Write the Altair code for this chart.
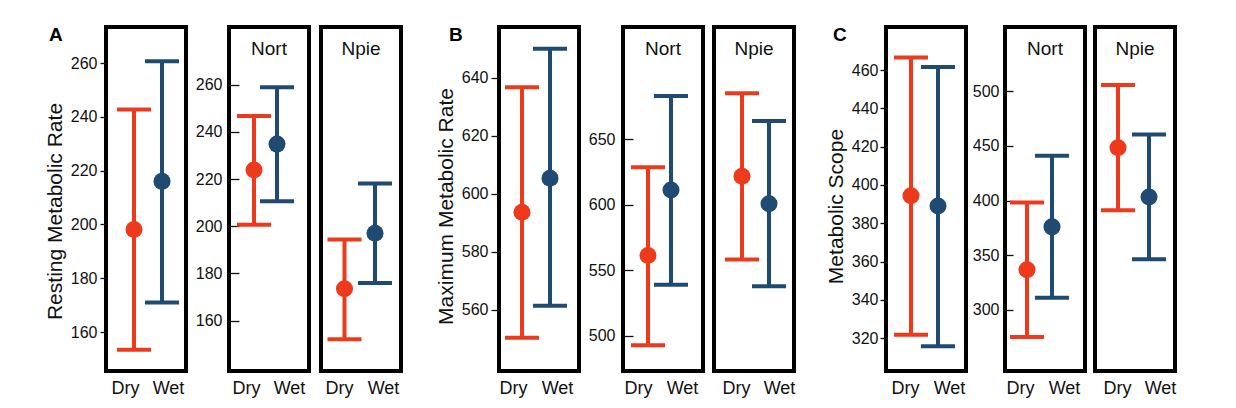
import altair as alt
import pandas as pd

conds = ["Dry", "Wet"]

# A: Resting Metabolic Rate
a_all_mean = [198.1, 216.0]
a_all_lo = [153.4, 171.0]
a_all_hi = [242.7, 260.7]
a_nort_mean = [223.8, 234.8]
a_nort_lo = [200.6, 210.6]
a_nort_hi = [246.7, 258.9]
a_npie_mean = [173.5, 197.0]
a_npie_lo = [152.1, 176.0]
a_npie_hi = [194.4, 218.1]
a_all_ticks = [160, 180, 200, 220, 240, 260]
a_pop_ticks = [160, 180, 200, 220, 240, 260]

# B: Maximum Metabolic Rate
b_all_mean = [593.6, 605.4]
b_all_lo = [550.3, 561.3]
b_all_hi = [636.8, 650.1]
b_nort_mean = [561.4, 611.4]
b_nort_lo = [492.9, 539.0]
b_nort_hi = [628.7, 683.0]
b_npie_mean = [621.9, 600.8]
b_npie_lo = [558.4, 538.0]
b_npie_hi = [685.1, 664.0]
b_all_ticks = [560, 580, 600, 620, 640]
b_pop_ticks = [500, 550, 600, 650]

# C: Metabolic Scope
c_all_mean = [394.4, 389.0]
c_all_lo = [321.7, 315.7]
c_all_hi = [466.6, 461.6]
c_nort_mean = [336.8, 376.0]
c_nort_lo = [275.3, 311.3]
c_nort_hi = [398.2, 441.1]
c_npie_mean = [448.4, 403.4]
c_npie_lo = [391.2, 346.3]
c_npie_hi = [505.8, 460.6]
c_all_ticks = [320, 340, 360, 380, 400, 420, 440, 460]
c_pop_ticks = [300, 350, 400, 450, 500]

RED = "#ee3a1c"
BLUE = "#1f4a72"
FONT = "Liberation Sans"
W = 80
H = 344


def panel(mean, lo, hi, domain, ticks, xrange, lrange, yaxis_opts=None,
          ytitle=None, title=None, letter=None, letter_dx=-57):
    df = pd.DataFrame({"cond": conds, "mean": mean, "lo": lo, "hi": hi})
    xaxis = alt.Axis(
        title=None, ticks=False, domain=False, labelAngle=0, orient="bottom",
        labelFontSize=18, labelPadding=8, labelFont=FONT, labelColor="#111",
    )
    x = alt.X("cond:N", sort=conds,
              scale=alt.Scale(type="point", domain=conds, range=xrange, padding=0),
              axis=None)
    ys = alt.Scale(domain=domain, nice=False, zero=False)
    if yaxis_opts is None:
        yaxis = None
    else:
        kw = dict(values=ticks, grid=False, domain=False, tickColor="#111",
                  tickWidth=1.3, labelFontSize=16, labelFont=FONT,
                  labelColor="#111")
        kw.update(yaxis_opts)
        if ytitle is not None:
            kw.update(title=ytitle, titleFont=FONT, titleFontSize=21,
                      titleFontWeight="normal", titleColor="#111")
        else:
            kw.update(title=None)
        yaxis = alt.Axis(**kw)
    color = alt.Color("cond:N", scale=alt.Scale(domain=conds, range=[RED, BLUE]),
                      legend=None)
    base = alt.Chart(df)
    rule = base.mark_rule(strokeWidth=4).encode(
        x=x, y=alt.Y("lo:Q", scale=ys, axis=yaxis), y2="hi:Q", color=color)
    cap_hi = base.mark_tick(orient="horizontal", size=34, thickness=4, opacity=1).encode(
        x=x, y=alt.Y("hi:Q", scale=ys), color=color)
    cap_lo = base.mark_tick(orient="horizontal", size=34, thickness=4, opacity=1).encode(
        x=x, y=alt.Y("lo:Q", scale=ys), color=color)
    pt = base.mark_point(filled=True, size=290, opacity=1, shape="circle").encode(
        x=x, y=alt.Y("mean:Q", scale=ys), color=color)
    labels = base.mark_point(opacity=0).encode(
        x=alt.X("cond:N", sort=conds,
                scale=alt.Scale(type="point", domain=conds, range=lrange, padding=0),
                axis=xaxis))
    props = dict(width=W, height=H)
    if title is not None:
        props["title"] = alt.TitleParams(title, font=FONT, fontSize=19,
                                         fontWeight="normal", color="#111",
                                         anchor="middle", baseline="top",
                                         offset=-32)
    if letter is not None:
        props["title"] = alt.TitleParams(letter, font=FONT, fontSize=19,
                                         fontWeight="bold", color="#000",
                                         anchor="start", baseline="top",
                                         frame="group", offset=-18, dx=letter_dx)
    return (alt.layer(rule, cap_hi, cap_lo, pt, labels)
            .resolve_scale(x="independent")
            .properties(**props))


def group(all_v, nort_v, npie_v, all_dom, pop_dom, all_ticks, pop_ticks,
          ranges, lranges, all_axis, pop_axis, ytitle, letter, letter_dx,
          s_in, s_out):
    p_all = panel(*all_v, all_dom, all_ticks, ranges[0], lranges[0], all_axis,
                  ytitle, letter=letter, letter_dx=letter_dx)
    p_nort = panel(*nort_v, pop_dom, pop_ticks, ranges[1], lranges[1], pop_axis,
                   title="Nort")
    p_npie = panel(*npie_v, pop_dom, pop_ticks, ranges[2], lranges[2], None,
                   title="Npie")
    return alt.hconcat(p_all, alt.hconcat(p_nort, p_npie, spacing=s_in),
                       spacing=s_out)


gA = group((a_all_mean, a_all_lo, a_all_hi), (a_nort_mean, a_nort_lo, a_nort_hi),
           (a_npie_mean, a_npie_lo, a_npie_hi), [145.5, 273.4], [138.7, 284.4],
           a_all_ticks, a_pop_ticks, [[28, 56], [25, 48], [23.5, 54]],
           [[19, 62], [17, 60], [18, 62]],
           dict(tickSize=6, offset=0, labelPadding=3, titlePadding=5, titleY=184),
           dict(tickSize=10, offset=-10, labelPadding=7),
           "Resting Metabolic Rate", "A", -57, 8, 5)

gB = group((b_all_mean, b_all_lo, b_all_hi), (b_nort_mean, b_nort_lo, b_nort_hi),
           (b_npie_mean, b_npie_lo, b_npie_hi), [538.8, 657.6], [473.3, 735.7],
           b_all_ticks, b_pop_ticks, [[23, 51], [25, 48], [28, 55]],
           [[14, 58], [15, 59], [22, 65]],
           dict(tickSize=8, offset=0, labelPadding=3, titlePadding=5, titleY=179),
           dict(tickSize=10, offset=-10, labelPadding=8),
           "Maximum Metabolic Rate", "B", -50, 7, 5)

gC = group((c_all_mean, c_all_lo, c_all_hi), (c_nort_mean, c_nort_lo, c_nort_hi),
           (c_npie_mean, c_npie_lo, c_npie_hi), [302.8, 482.5], [244.2, 558.8],
           c_all_ticks, c_pop_ticks, [[25, 52], [22, 47], [23, 54]],
           [[19, 63], [15, 59], [22, 65]],
           dict(tickSize=6, offset=0, labelPadding=2, titlePadding=5, titleY=179),
           dict(tickSize=8, offset=-8, labelPadding=6),
           "Metabolic Scope", "C", -53, 6, 2)

chart = alt.hconcat(gA, alt.hconcat(gB, gC, spacing=26), spacing=30).properties(
    padding={"left": 34, "top": 16, "right": 5, "bottom": 5}
).configure_view(stroke="#000", strokeWidth=4)

chart.save("out.html", embed_options={"renderer": "svg", "actions": False})
